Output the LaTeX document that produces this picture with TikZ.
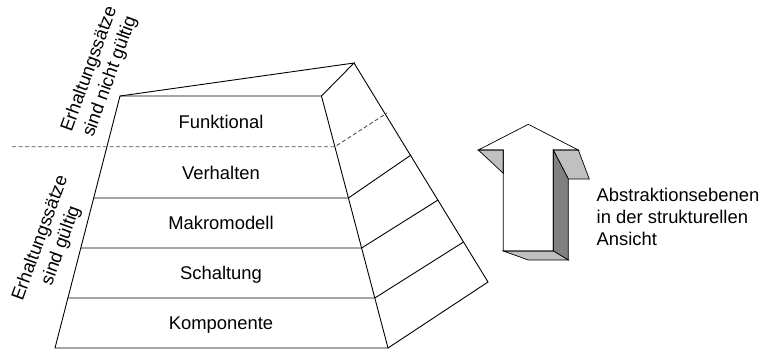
\documentclass[tikz,border=0pt]{standalone}
\usepackage{fontspec}
\setmainfont{Liberation Sans}
\definecolor{facegray}{HTML}{C0C0C0}
\definecolor{sidegray}{HTML}{808080}
\definecolor{dashgray}{HTML}{505050}
\begin{document}
\begin{tikzpicture}[x=1pt,y=-1pt,line join=miter,
  edge/.style={draw=black,line width=0.9pt},
  borderline/.style={draw=dashgray,line width=0.9pt,dash pattern=on 4pt off 2.5pt},
  arrowedge/.style={draw=black,line width=0.7pt},
  txt/.style={inner sep=0pt,font=\fontsize{18.4}{22}\selectfont},
  layerlabel/.style={txt,anchor=base},
  sidelabel/.style={txt,align=center}]
\useasboundingbox (0,0) rectangle (764,349);

% corners of the pyramid
\coordinate (TL) at (120,96);
\coordinate (TR) at (321.5,96);
\coordinate (BL) at (55,348);
\coordinate (BR) at (388,348);
\coordinate (BK) at (354,63);
\coordinate (BKB) at (488,282);

% level boundaries on the left, front-right and back-right edges
\coordinate (L1) at (106.9,146.7);  \coordinate (R1) at (334.9,146.7); \coordinate (O1) at (387,113);
\coordinate (L2) at (93.7,198);     \coordinate (R2) at (348.4,198);   \coordinate (O2) at (411,155);
\coordinate (L3) at (80.8,248);     \coordinate (R3) at (361.6,248);   \coordinate (O3) at (438,200);
\coordinate (L4) at (67.9,298);     \coordinate (R4) at (374.8,298);   \coordinate (O4) at (463.5,242);
\coordinate (D0) at (12,146.7);

% pyramid body
\draw[edge] (TL) -- (BL) -- (BR) -- (TR) -- cycle;
\draw[edge] (TL) -- (BK) -- (TR);
\draw[edge] (BK) -- (BKB) -- (BR);
\draw[edge] (L2) -- (R2) -- (O2);
\draw[edge] (L3) -- (R3) -- (O3);
\draw[edge] (L4) -- (R4) -- (O4);
\draw[borderline] (D0) -- (R1) -- (O1);

% level names
\node[layerlabel] (funk) at (221,128.3) {Funktional};
\node[layerlabel] (verh) at (221,179.0) {Verhalten};
\node[layerlabel] (makro) at (221,229.6) {Makromodell};
\node[layerlabel] (schalt) at (221,279.6) {Schaltung};
\node[layerlabel] (komp) at (221,329.8) {Komponente};

% validity of the conservation laws
\node[sidelabel,rotate=70] (nichtg) at (100,73) {Erhaltungssätze\\sind nicht gültig};
\node[sidelabel,rotate=70] (gueltig) at (51,242) {Erhaltungssätze\\sind gültig};

% 3D arrow
\coordinate (T) at (528.3,124.3);
\coordinate (LW) at (478.3,150);
\coordinate (LS) at (503.3,150);
\coordinate (LT) at (503.3,173.3);
\coordinate (LB) at (503.3,251);
\coordinate (RB) at (553.3,251);
\coordinate (RS) at (553.3,150);
\coordinate (RW) at (578.3,150);
\coordinate (RW2) at (589.3,179);
\coordinate (RS2) at (568.3,179);
\coordinate (RB2) at (568.3,260);
\coordinate (LB2) at (528.3,260);
\fill[white] (T) -- (LW) -- (LS) -- (LB) -- (RB) -- (RS) -- (RW) -- cycle;
\draw[arrowedge,fill=facegray] (LW) -- (LS) -- (LT) -- cycle;
\draw[arrowedge,fill=facegray] (RS) -- (RW) -- (RW2) -- (RS2) -- cycle;
\draw[arrowedge,fill=sidegray] (RS) -- (RS2) -- (RB2) -- (RB) -- cycle;
\draw[arrowedge,fill=facegray] (LB) -- (RB) -- (RB2) -- (LB2) -- cycle;
\draw[arrowedge] (T) -- (LW) -- (LS) -- (LB) -- (RB) -- (RS) -- (RW) -- cycle;

\node[txt,anchor=base west,align=left] (abstr) at (596.5,245) {Abstraktionsebenen\\in der strukturellen\\Ansicht};
\end{tikzpicture}
\end{document}
